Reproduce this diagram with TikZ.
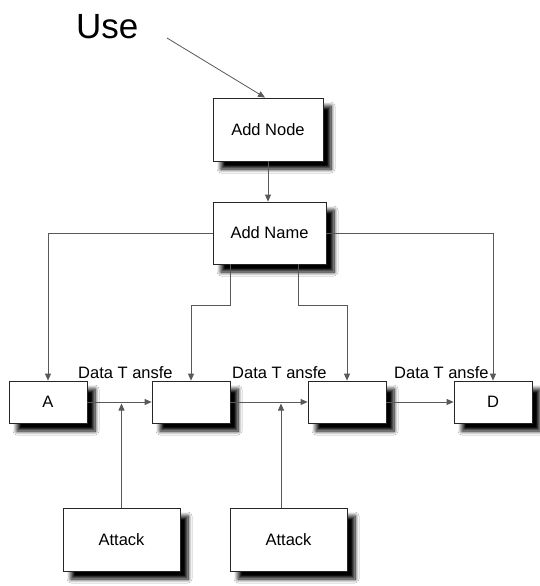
\documentclass[tikz,border=0pt]{standalone}
\usepackage{fontspec}
\setmainfont{Liberation Sans}
\usetikzlibrary{arrows.meta,shadows.blur}

\newcommand{\boxfont}{\fontsize{16.5}{19}\selectfont}
\newcommand{\bigfont}{\fontsize{35}{40}\selectfont}

\tikzset{
  stepbox/.style={draw=black!85, fill=white, line width=0.8pt, inner sep=0pt,
    font=\boxfont,
    blur shadow={shadow xshift=8pt, shadow yshift=-8pt, shadow blur radius=4pt,
      shadow opacity=100, shadow blur steps=8}},
  conn/.style={draw=black!65, line width=0.8pt,
    -{Triangle[length=7pt,width=6pt,fill=black!65]}},
  lbl/.style={font=\boxfont, inner sep=0pt, anchor=base west}
}

\begin{document}
\begin{tikzpicture}[x=1pt,y=-1pt]
  % canvas
  \fill[white] (0,0) rectangle (540,586);
  \useasboundingbox (0,0) rectangle (540,586);

  % title text and its pointer
  \node[font=\bigfont, inner sep=0pt, anchor=base west] (use) at (76,38) {Use};
  \coordinate (usetail) at (167,38);

  % upper boxes
  \node[stepbox, minimum width=110pt, minimum height=63pt] (addnode) at (268,129.5) {Add Node};
  \node[stepbox, minimum width=113pt, minimum height=62pt] (addname) at (269.5,233) {Add Name};

  % row of nodes
  \node[stepbox, minimum width=78pt, minimum height=42pt] (a) at (48,402) {A};
  \node[stepbox, minimum width=78pt, minimum height=42pt] (b) at (191,402) {};
  \node[stepbox, minimum width=78pt, minimum height=42pt] (c) at (347,402) {};
  \node[stepbox, minimum width=78pt, minimum height=42pt] (d) at (493,402) {D};

  % attackers
  \node[stepbox, minimum width=117pt, minimum height=63pt] (attack1) at (121.5,539.5) {Attack};
  \node[stepbox, minimum width=117pt, minimum height=63pt] (attack2) at (288.5,539.5) {Attack};

  % transfer labels
  \node[lbl] (t1) at (78,378) {Data T ansfe};
  \node[lbl] (t2) at (232,378) {Data T ansfe};
  \node[lbl] (t3) at (394,378) {Data T ansfe};

  % connectors
  \draw[conn] (usetail) -- ([xshift=-3pt]addnode.north);
  \draw[conn] (addnode.south) -- (addnode.south |- addname.north);

  \draw[conn] (addname.west) -| (a.north);
  \draw[conn] (addname.east) -| (d.north);

  \draw[conn] ([xshift=-39.5pt]addname.south) -- ++(0,41) -| (b.north);
  \draw[conn] ([xshift=28.5pt]addname.south) -- ++(0,41) -| (c.north);

  \draw[conn] (a) -- (b);
  \draw[conn] (b) -- (c);
  \draw[conn] (c) -- (d);

  \coordinate (m1) at (attack1.north |- a.east);
  \coordinate (m2) at ([xshift=-7.5pt]attack2.north |- b.east);
  \draw[conn] (attack1.north) -- ([yshift=-1.5pt]m1);
  \draw[conn] ([xshift=-7.5pt]attack2.north) -- ([yshift=-1.5pt]m2);
\end{tikzpicture}
\end{document}
